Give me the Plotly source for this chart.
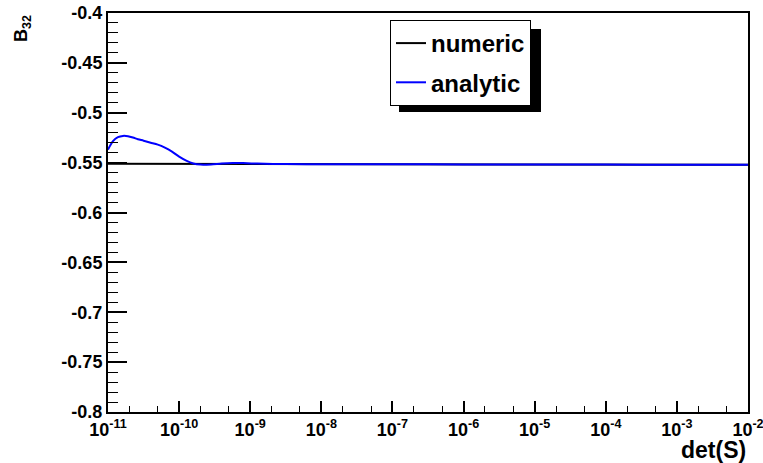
import plotly.graph_objects as go

# ---- data ----
numeric_logx = [-11.0, -10.0, -9.0, -8.0, -7.0, -6.0, -5.0, -4.0, -3.0, -2.0]
numeric_y = [-0.5512, -0.5513, -0.5514, -0.5515, -0.5516, -0.5517, -0.5518, -0.5519, -0.5520, -0.5521]

analytic_logx = [-11.0, -10.93, -10.86, -10.79, -10.72, -10.65, -10.58, -10.5, -10.4, -10.3,
                 -10.2, -10.1, -10.0, -9.9, -9.8, -9.7, -9.55, -9.4, -9.25, -9.1,
                 -8.9, -8.5, -8.0, -7.0, -6.0, -5.0, -4.0, -3.0, -2.0]
analytic_y = [-0.537, -0.5285, -0.5245, -0.5232, -0.5235, -0.5248, -0.5265, -0.528, -0.530, -0.532,
              -0.535, -0.539, -0.544, -0.548, -0.5508, -0.5520, -0.5518, -0.5508, -0.5503, -0.5505,
              -0.5510, -0.5515, -0.5516, -0.5517, -0.5518, -0.5519, -0.5520, -0.5521, -0.5522]

xtick_exps = [-11, -10, -9, -8, -7, -6, -5, -4, -3, -2]
ytick_vals = [-0.8, -0.75, -0.7, -0.65, -0.6, -0.55, -0.5, -0.45, -0.4]
ytick_text = ["-0.8", "-0.75", "-0.7", "-0.65", "-0.6", "-0.55", "-0.5", "-0.45", "-0.4"]

FONT = "Liberation Sans, Arial, Helvetica, sans-serif"

fig = go.Figure()
fig.add_trace(go.Scatter(
    x=[10 ** v for v in numeric_logx], y=numeric_y, mode="lines",
    name="<b>numeric</b>", legendgroup="a", line=dict(color="black", width=2)))
fig.add_trace(go.Scatter(
    x=[10 ** v for v in analytic_logx], y=analytic_y, mode="lines",
    name="<b>analytic</b>", legendgroup="b",
    line=dict(color="#0000ff", width=2, shape="spline", smoothing=0.8)))

fig.update_layout(
    template="none",
    width=763, height=463,
    margin=dict(l=108, r=15, t=13, b=51, autoexpand=False),
    paper_bgcolor="white", plot_bgcolor="white",
    font=dict(family=FONT, size=14, color="black"),
    showlegend=True,
    legend=dict(
        x=(390 - 108) / 640, y=1 - (20 - 13) / 399, xanchor="left", yanchor="top",
        bgcolor="white", bordercolor="black", borderwidth=1,
        font=dict(family=FONT, size=24, color="black"),
        tracegroupgap=5, itemwidth=30,
    ),
    xaxis=dict(
        type="log", range=[-11, -2], automargin=False, ticklabeloverflow="allow",
        tickvals=[10 ** e for e in xtick_exps],
        ticktext=["<b>10<sup>%d</sup></b>" % e for e in xtick_exps],
        ticks="inside", ticklen=11, tickwidth=1.5, tickcolor="black",
        showline=True, linecolor="black", linewidth=2, mirror=True,
        showgrid=False, zeroline=False,
        tickfont=dict(family=FONT, size=18, color="black"),
        minor=dict(ticks="inside", ticklen=6, tickwidth=1.2, tickcolor="black", showgrid=False),
    ),
    yaxis=dict(
        range=[-0.8, -0.4], automargin=False, ticklabeloverflow="allow",
        tickvals=ytick_vals,
        ticktext=["<b>%s</b>" % t for t in ytick_text],
        ticks="inside", ticklen=19, tickwidth=1.5, tickcolor="black",
        showline=True, linecolor="black", linewidth=2, mirror=True,
        showgrid=False, zeroline=False,
        tickfont=dict(family=FONT, size=18, color="black"),
        minor=dict(ticks="inside", ticklen=10, tickwidth=1.2, tickcolor="black",
                   dtick=0.01, tick0=-0.8, showgrid=False),
    ),
    shapes=[dict(type="rect", xref="paper", yref="paper",
                 x0=(399 - 108) / 640, x1=(541 - 108) / 640,
                 y0=1 - (112 - 13) / 399, y1=1 - (29 - 13) / 399,
                 fillcolor="black", line=dict(width=0), layer="above")],
    annotations=[
        dict(text="<b>det(S)</b>", xref="paper", yref="paper", x=1, y=0,
             xanchor="right", yanchor="top", yshift=-23, showarrow=False,
             font=dict(family=FONT, size=23, color="black")),
        dict(text="<b>B<sub>32</sub></b>", xref="paper", yref="paper", x=0, y=1,
             xanchor="right", yanchor="top", xshift=-72, yshift=0, textangle=-90,
             showarrow=False, font=dict(family=FONT, size=18, color="black")),
    ],
)

fig.write_html("out.html", config={"displayModeBar": False},
               post_script="document.body.style.margin='0';")
